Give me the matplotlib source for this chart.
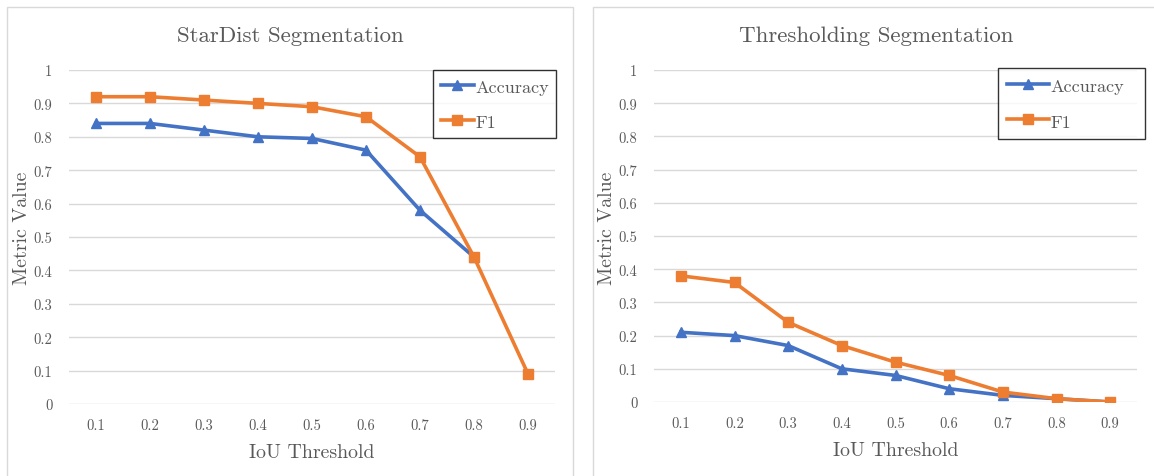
import numpy as np
import matplotlib
matplotlib.use("Agg")
import matplotlib.pyplot as plt
from matplotlib.patches import Rectangle

plt.rcParams['font.family'] = ['cmr10', 'DejaVu Serif']
plt.rcParams['axes.formatter.use_mathtext'] = True

# data
thresholds = ["0.1", "0.2", "0.3", "0.4", "0.5", "0.6", "0.7", "0.8", "0.9"]
stardist_acc = [0.84, 0.84, 0.82, 0.80, 0.795, 0.76, 0.58, 0.44, np.nan]
stardist_f1 = [0.92, 0.92, 0.91, 0.90, 0.89, 0.86, 0.74, 0.44, 0.09]
thresh_acc = [0.21, 0.20, 0.17, 0.10, 0.08, 0.04, 0.02, 0.01, 0.0]
thresh_f1 = [0.38, 0.36, 0.24, 0.17, 0.12, 0.08, 0.03, 0.01, 0.0]
yticks = [0, 0.1, 0.2, 0.3, 0.4, 0.5, 0.6, 0.7, 0.8, 0.9, 1]
yticklabels = ["0", "0.1", "0.2", "0.3", "0.4", "0.5", "0.6", "0.7", "0.8", "0.9", "1"]

BLUE = "#4472C4"
ORANGE = "#ED7D31"
GREY = "#595959"
GRID = "#D9D9D9"

W, H = 1154, 477
fig = plt.figure(figsize=(W / 100, H / 100), dpi=100)


def px(x0, y0, x1, y1):
    # pixel box -> figure fraction [left, bottom, width, height]
    return [x0 / W, 1 - y1 / H, (x1 - x0) / W, (y1 - y0) / H]


def panel(box, title, title_x, ylab_x, acc, f1, leg_box, pad, spacing, hlen):
    ax = fig.add_axes(box)
    x = np.arange(len(thresholds))
    ax.plot(x, acc, color=BLUE, lw=2.6, marker="^", ms=7.5, label="Accuracy", zorder=3)
    ax.plot(x, f1, color=ORANGE, lw=2.6, marker="s", ms=7.5, label="F1", zorder=4)
    ax.set_xlim(-0.5, len(thresholds) - 0.5)
    ax.set_ylim(0, 1)
    ax.set_xticks(x)
    ax.set_xticklabels(thresholds)
    ax.set_yticks(yticks)
    ax.set_yticklabels(yticklabels)
    ax.grid(axis="y", color=GRID, lw=1)
    ax.set_axisbelow(True)
    for s in ax.spines.values():
        s.set_visible(False)
    ax.tick_params(length=0, labelsize=10.5, colors=GREY, pad=10)
    ax.tick_params(axis="y", pad=12)
    ax.set_xlabel("IoU Threshold", fontsize=14.3, color=GREY, labelpad=8)
    fig.text(ylab_x / W, 1 - 228 / H, "Metric Value", rotation=90, fontsize=14.3,
             color=GREY, ha="center", va="center")
    fig.text(title_x / W, 1 - 36 / H, title, fontsize=16.5, color=GREY,
             ha="center", va="center")
    lx, ly, lw = leg_box
    leg = ax.legend(loc="upper left", bbox_to_anchor=(lx / W, 1 - ly / H - 0.01, lw / W, 0.01),
                    bbox_transform=fig.transFigure, mode="expand",
                    fontsize=13, frameon=True, fancybox=False, handlelength=hlen,
                    handleheight=1.0, handletextpad=0.1, labelspacing=spacing,
                    borderpad=pad, borderaxespad=0, labelcolor=GREY)
    leg.get_frame().set_edgecolor("#000000")
    leg.get_frame().set_linewidth(1.0)
    return ax


panel(px(69, 71, 555, 405), "StarDist Segmentation", 290, 22,
      stardist_acc, stardist_f1, (433, 71, 123), 0.45, 0.95, 1.8)
panel(px(654, 71, 1137, 403), "Thresholding Segmentation", 876, 607,
      thresh_acc, thresh_f1, (998, 69, 147), 0.5, 1.0, 2.3)

# chart area borders
fig.patches.append(Rectangle((7 / W, -0.1), (573 - 7) / W, 1.1 - 8 / H,
                             transform=fig.transFigure, fill=False, ec=GRID, lw=1))
fig.patches.append(Rectangle((593 / W, -0.1), (1200 - 593) / W, 1.1 - 8 / H,
                             transform=fig.transFigure, fill=False, ec=GRID, lw=1))

fig.savefig("out.png", dpi=100, facecolor="white")
